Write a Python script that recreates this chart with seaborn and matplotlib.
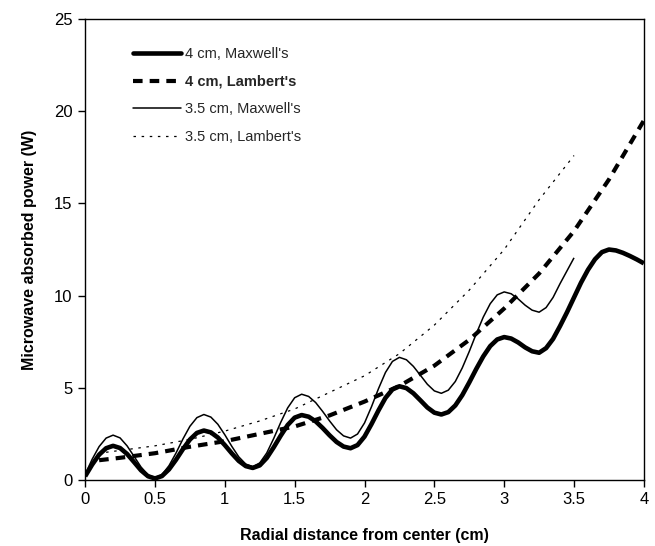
import numpy as np
import pandas as pd
import matplotlib
matplotlib.use("Agg")
import matplotlib.pyplot as plt
import seaborn as sns
from matplotlib.lines import Line2D
from matplotlib.ticker import FuncFormatter

# ---------------- data ----------------
x_max4 = [0.00, 0.05, 0.10, 0.15, 0.20, 0.25, 0.30, 0.35, 0.40, 0.45,
          0.50, 0.55, 0.60, 0.65, 0.70, 0.75, 0.80, 0.85, 0.90, 0.95,
          1.00, 1.05, 1.10, 1.15, 1.20, 1.25, 1.30, 1.35, 1.40, 1.45,
          1.50, 1.55, 1.60, 1.65, 1.70, 1.75, 1.80, 1.85, 1.90, 1.95,
          2.00, 2.05, 2.10, 2.15, 2.20, 2.25, 2.30, 2.35, 2.40, 2.45,
          2.50, 2.55, 2.60, 2.65, 2.70, 2.75, 2.80, 2.85, 2.90, 2.95,
          3.00, 3.05, 3.10, 3.15, 3.20, 3.25, 3.30, 3.35, 3.40, 3.45,
          3.50, 3.55, 3.60, 3.65, 3.70, 3.75, 3.80, 3.85, 3.90, 3.95,
          4.00]
y_max4 = [0.20, 0.83, 1.37, 1.72, 1.85, 1.73, 1.41, 0.97, 0.52, 0.20,
          0.08, 0.21, 0.57, 1.09, 1.67, 2.19, 2.55, 2.68, 2.58, 2.30,
          1.89, 1.44, 1.03, 0.75, 0.65, 0.79, 1.19, 1.77, 2.40, 2.98,
          3.38, 3.52, 3.43, 3.18, 2.82, 2.42, 2.06, 1.81, 1.72, 1.89,
          2.35, 3.03, 3.77, 4.45, 4.91, 5.08, 4.98, 4.70, 4.32, 3.93,
          3.65, 3.55, 3.68, 4.04, 4.60, 5.29, 6.02, 6.70, 7.26, 7.62,
          7.75, 7.67, 7.46, 7.19, 6.98, 6.90, 7.15, 7.65, 8.35, 9.10,
          9.90, 10.70, 11.40, 11.97, 12.36, 12.50, 12.45, 12.32, 12.15, 11.96,
          11.75]

x_max35 = x_max4[:71]
y_max35 = [0.30, 1.12, 1.81, 2.27, 2.43, 2.28, 1.85, 1.28, 0.70, 0.28,
           0.12, 0.29, 0.77, 1.45, 2.22, 2.91, 3.38, 3.55, 3.41, 3.02,
           2.45, 1.82, 1.25, 0.86, 0.72, 0.92, 1.46, 2.25, 3.12, 3.91,
           4.46, 4.65, 4.53, 4.20, 3.72, 3.20, 2.72, 2.39, 2.27, 2.49,
           3.09, 3.97, 4.95, 5.83, 6.43, 6.65, 6.52, 6.16, 5.68, 5.19,
           4.83, 4.70, 4.87, 5.34, 6.08, 6.97, 7.93, 8.83, 9.56, 10.04,
           10.20, 10.10, 9.82, 9.48, 9.21, 9.10, 9.35, 9.90, 10.65, 11.35,
           12.05]

x_lam4 = [0.10, 0.25, 0.50, 0.75, 1.00, 1.25, 1.50, 1.75, 2.00, 2.25,
          2.50, 2.75, 3.00, 3.25, 3.50, 3.75, 4.00]
y_lam4 = [1.07, 1.20, 1.45, 1.80, 2.10, 2.50, 2.90, 3.50, 4.25, 5.10,
          6.20, 7.60, 9.30, 11.20, 13.50, 16.30, 19.50]

x_lam35 = [0.15, 0.25, 0.50, 0.75, 1.00, 1.25, 1.50, 1.75, 2.00, 2.25,
           2.50, 2.75, 3.00, 3.25, 3.50]
y_lam35 = [1.50, 1.60, 1.85, 2.20, 2.65, 3.20, 3.85, 4.75, 5.65, 6.85,
           8.40, 10.30, 12.50, 15.20, 17.60]

labels = ["4 cm, Maxwell's", "4 cm, Lambert's", "3.5 cm, Maxwell's", "3.5 cm, Lambert's"]
x_ticks = [0, 0.5, 1, 1.5, 2, 2.5, 3, 3.5, 4]
y_ticks = [0, 5, 10, 15, 20, 25]

# ---------------- style ----------------
sns.set_theme(style="ticks")
plt.rcParams["font.family"] = ["Liberation Sans", "DejaVu Sans"]

fig = plt.figure(figsize=(6.55, 5.46), dpi=100)
ax = fig.add_axes([0.130, 0.121, 0.853, 0.844])

styles = [
    dict(lw=3.3, dashes=None),
    dict(lw=3.0, dashes=(2.3, 1.7)),
    dict(lw=1.1, dashes=None),
    dict(lw=0.9, dashes=(2.0, 4.5)),
]
series = [(x_max4, y_max4), (x_lam4, y_lam4), (x_max35, y_max35), (x_lam35, y_lam35)]

for (xs, ys), st in zip(series, styles):
    df = pd.DataFrame({"x": xs, "y": ys})
    sns.lineplot(data=df, x="x", y="y", ax=ax, color="black", linewidth=st["lw"],
                 legend=False, errorbar=None, sort=True)
    ln = ax.lines[-1]
    ln.set_solid_capstyle("butt")
    if st["dashes"] is not None:
        ln.set_dashes(st["dashes"])
        ln.set_dash_capstyle("butt")

ax.set_xlim(0, 4)
ax.set_ylim(0, 25)
ax.set_xticks(x_ticks)
ax.set_yticks(y_ticks)
ax.xaxis.set_major_formatter(FuncFormatter(lambda v, p: f"{v:g}"))
ax.yaxis.set_major_formatter(FuncFormatter(lambda v, p: f"{v:g}"))
ax.tick_params(axis="both", direction="out", length=5, width=1, labelsize=12,
               color="black", labelcolor="black", pad=4)
for sp in ax.spines.values():
    sp.set_visible(True)
    sp.set_color("black")
    sp.set_linewidth(1.0)

ax.set_xlabel("Radial distance from center (cm)", fontsize=11.5, fontweight="bold",
              color="black", labelpad=15)
ax.set_ylabel("Microwave absorbed power (W)", fontsize=11.5, fontweight="bold",
              color="black", labelpad=12)

handles = []
for st in styles:
    h = Line2D([0], [0], color="black", linewidth=st["lw"])
    if st["dashes"] is not None:
        h.set_dashes(st["dashes"])
    handles.append(h)
leg = ax.legend(handles, labels, loc="upper left", bbox_to_anchor=(0.085, 0.94),
                frameon=False, fontsize=10.5, handlelength=3.35, handletextpad=0.25,
                labelspacing=0.95, borderpad=0, borderaxespad=0)
leg.get_texts()[1].set_fontweight("bold")

fig.savefig("out.png", dpi=100)
